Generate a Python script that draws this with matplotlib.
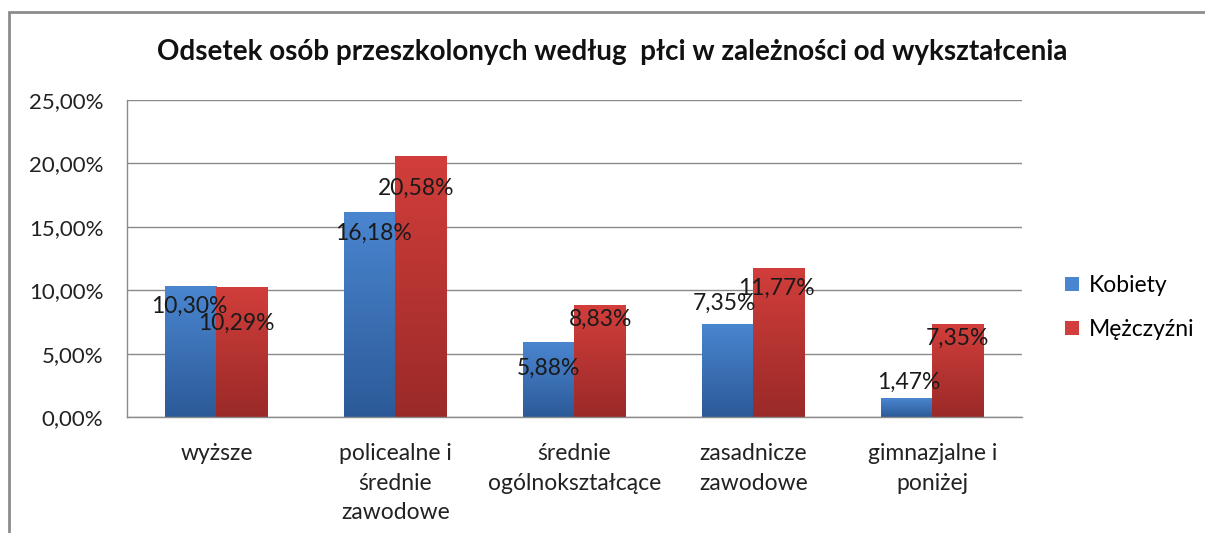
import numpy as np
import matplotlib.pyplot as plt
from matplotlib.patches import Rectangle
from matplotlib.colors import LinearSegmentedColormap
from matplotlib.ticker import FuncFormatter, MultipleLocator

plt.rcParams['font.family'] = ['Lato', 'DejaVu Sans']

categories = ['wyższe', 'policealne i\nśrednie\nzawodowe', 'średnie\nogólnokształcące',
              'zasadnicze\nzawodowe', 'gimnazjalne i\nponiżej']
kobiety = [10.30, 16.18, 5.88, 7.35, 1.47]
mezczyzni = [10.29, 20.58, 8.83, 11.77, 7.35]
series_names = ['Kobiety', 'Mężczyźni']

# label placement (pixels from bar top centre, +down), as in the original
blue_off = [(-2, 20), (4, 22), (0, 26), (-3, -20), (2, -16)]
red_off = [(-6, 37), (-5, 32), (1, 14), (-2, 21), (0, 15)]

blue_top, blue_bot = '#4a86d0', '#2c5a98'
red_top, red_bot = '#d23e3b', '#9a2a28'
grid_c = '#8a8a8a'


def pct(v, _=None):
    return f'{v:.2f}'.replace('.', ',') + '%'


def gradient_fill(ax, bars, top, bot):
    cmap = LinearSegmentedColormap.from_list('g', [bot, top])
    grad = np.linspace(0, 1, 256).reshape(-1, 1)
    for b in bars:
        x, y = b.get_x(), b.get_y()
        w, h = b.get_width(), b.get_height()
        im = ax.imshow(grad, cmap=cmap, origin='lower', aspect='auto',
                       extent=(x, x + w, y, y + h), zorder=b.get_zorder())
        im.set_clip_path(b)


fig = plt.figure(figsize=(12.05, 5.33), dpi=100)
ax = fig.add_axes([0.1054, 0.2176, 0.7426, 0.5948])

x = np.arange(len(categories))
w = 0.285
b1 = ax.bar(x - w / 2, kobiety, w, color=blue_top, label=series_names[0], zorder=2)
b2 = ax.bar(x + w / 2, mezczyzni, w, color=red_top, label=series_names[1], zorder=2)
gradient_fill(ax, b1, blue_top, blue_bot)
gradient_fill(ax, b2, red_top, red_bot)

for bars, vals, offs in ((b1, kobiety, blue_off), (b2, mezczyzni, red_off)):
    for b, v, (dx, dy) in zip(bars, vals, offs):
        ax.annotate(pct(v), (b.get_x() + b.get_width() / 2, b.get_height()),
                    xytext=(dx, -dy), textcoords='offset pixels',
                    ha='center', va='center', fontsize=16.5, color='#1a1a1a', zorder=5)

ax.set_xlim(-0.5, len(categories) - 0.5)
ax.set_ylim(0, 25)
ax.yaxis.set_major_locator(MultipleLocator(5))
ax.yaxis.set_major_formatter(FuncFormatter(pct))
ax.set_xticks(x)
ax.set_xticklabels(categories, fontsize=16.5, color='#222222', linespacing=1.5)
ax.tick_params(axis='y', length=0, pad=17, labelsize=16, labelcolor='#222222')
ax.tick_params(axis='x', length=0, pad=19)
ax.grid(axis='y', color=grid_c, linewidth=1, zorder=0)
ax.set_axisbelow(True)
for s in ('top', 'right'):
    ax.spines[s].set_visible(False)
for s in ('left', 'bottom'):
    ax.spines[s].set_color(grid_c)
    ax.spines[s].set_linewidth(1)

fig.text(0.508, 1 - 52 / 533,
         'Odsetek osób przeszkolonych według  płci w zależności od wykształcenia',
         ha='center', va='center', fontsize=20, fontweight='bold', color='#111111')

ax.legend(loc='center left', bbox_to_anchor=(1.025, 0.345), frameon=False,
          fontsize=16.5, handlelength=0.6, handleheight=0.6, handletextpad=0.45,
          labelspacing=1.0)

fig.patches.append(Rectangle((9 / 1205, -0.2), 1.2, 1.2 - 12 / 533,
                             transform=fig.transFigure, fill=False,
                             edgecolor='#8c8c8c', linewidth=2))

fig.savefig('out.png', dpi=100)
